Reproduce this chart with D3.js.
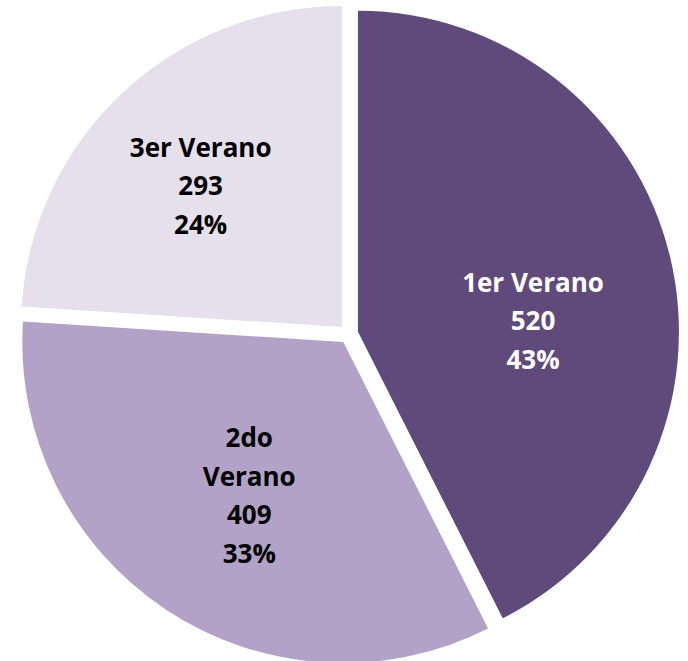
<!DOCTYPE html>
<html>
<head>
<meta charset="utf-8">
<script src="https://cdn.jsdelivr.net/npm/d3@7"></script>
<style>
  body { margin: 0; background: #fff; }
  svg { display: block; }
</style>
</head>
<body>
<div id="chart"></div>
<script>
var width = 688,
  height = 661;

// data
var categories = ["1er Verano", "2do Verano", "3er Verano"];
var values = [520, 409, 293];
var labelLines = [["1er Verano"], ["2do", "Verano"], ["3er Verano"]];
var colors = ["#604A7B", "#B2A2C7", "#E5E0EC"];
var textColors = ["#ffffff", "#000000", "#000000"];

var cx = 348.6, cy = 334, radius = 321, explode = 9.6;
// label placement (angle shift in degrees, distance from center)
var labelShift = [10, -2, -2];
var labelDist = [185, 190, 209];

var total = d3.sum(values);

var svg = d3.select("#chart").append("svg")
  .attr("width", width)
  .attr("height", height)
  .append("g")
  .attr("transform", "translate(" + cx + "," + cy + ")");

var pie = d3.pie().sort(null).value(function (d) { return d; });
var arcs = pie(values);

var arc = d3.arc().innerRadius(0).outerRadius(radius);

var slices = svg.selectAll("g.slice")
  .data(arcs)
  .enter()
  .append("g")
  .attr("class", "slice")
  .attr("transform", function (d) {
    var a = (d.startAngle + d.endAngle) / 2;
    return "translate(" + (Math.sin(a) * explode) + "," + (-Math.cos(a) * explode) + ")";
  });

slices.append("path")
  .attr("d", arc)
  .attr("fill", function (d, i) { return colors[i]; });

slices.each(function (d, i) {
  var a = (d.startAngle + d.endAngle) / 2 + labelShift[i] * Math.PI / 180;
  var r = labelDist[i] - explode;
  var x = Math.sin(a) * r, y = -Math.cos(a) * r;
  var lines = labelLines[i].concat([String(values[i]), Math.round(values[i] / total * 100) + "%"]);
  var lh = 38.5;
  var t = d3.select(this).append("text")
    .attr("text-anchor", "middle")
    .attr("font-family", "'Open Sans', Lato, sans-serif")
    .attr("font-weight", "bold")
    .attr("font-size", 26)
    .attr("fill", textColors[i]);
  lines.forEach(function (s, k) {
    t.append("tspan")
      .attr("x", x)
      .attr("y", y + (k - (lines.length - 1) / 2) * lh)
      .attr("dy", "0.35em")
      .text(s);
  });
});
</script>
</body>
</html>
